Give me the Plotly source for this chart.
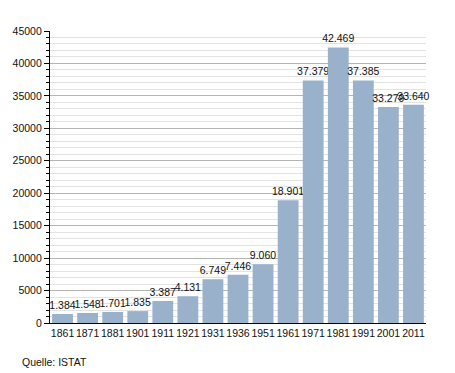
import plotly.graph_objects as go

years = ["1861", "1871", "1881", "1901", "1911", "1921", "1931", "1936",
         "1951", "1961", "1971", "1981", "1991", "2001", "2011"]
population = [1384, 1548, 1701, 1835, 3387, 4131, 6749, 7446,
              9060, 18901, 37379, 42469, 37385, 33279, 33640]
labels = [f"{v:,}".replace(",", ".") for v in population]
source_text = "Quelle: ISTAT"

# the page body has an 8px margin, so the figure is offset by (8, 8)
fig = go.Figure(go.Bar(
    x=years, y=population, text=labels,
    textposition="outside", cliponaxis=False, constraintext="none",
    textfont=dict(size=10.5, color="#111"),
    marker=dict(color="rgb(154,177,204)", line=dict(width=0)),
    hoverinfo="skip",
))

fig.update_layout(
    width=455, height=373,
    margin=dict(l=42, r=37, t=23, b=58, autoexpand=False),
    plot_bgcolor="white", paper_bgcolor="white",
    font=dict(family="Liberation Sans, Arial, sans-serif", size=10.5, color="#111"),
    bargap=0.17,
    showlegend=False,
    annotations=[dict(text=source_text, xref="paper", yref="paper",
                      x=(20 - 50) / 376, y=-(362 - 323) / 292,
                      showarrow=False, xanchor="left", yanchor="middle",
                      font=dict(size=10.5))],
)
fig.update_xaxes(showline=True, linecolor="black", linewidth=1.2, ticks="",
                 showgrid=False, tickfont=dict(size=10.5), tickangle=0,
                 automargin=False)
fig.update_yaxes(range=[0, 45000], dtick=5000, tickformat="d", showline=True,
                 linecolor="black", linewidth=1.2, ticks="outside", ticklen=5,
                 tickcolor="black", showgrid=True, gridcolor="#b5b5b5", gridwidth=1,
                 zeroline=False, tickfont=dict(size=10.5), automargin=False,
                 minor=dict(dtick=1000, showgrid=True, gridcolor="#e3e3e3",
                            ticks="outside", ticklen=3, tickcolor="black"))

fig.write_html("out.html")
